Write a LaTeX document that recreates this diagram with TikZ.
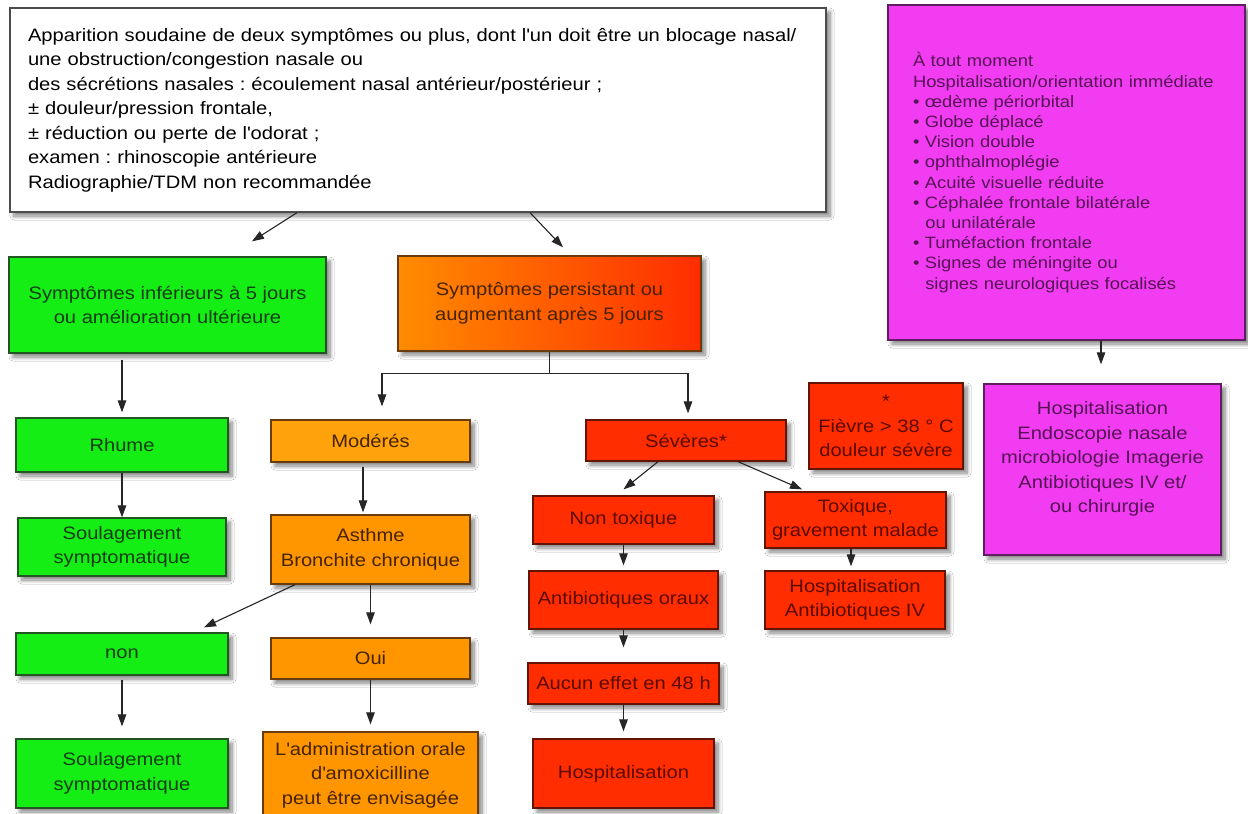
\documentclass[tikz,border=0pt]{standalone}
\usepackage{fontspec}
\setmainfont[FakeStretch=1.12]{Liberation Sans}
\usetikzlibrary{arrows.meta,shadows.blur,calc}
\frenchspacing

\definecolor{cgreen}{RGB}{20,238,20}
\definecolor{cgreenD}{RGB}{35,85,35}
\definecolor{cgreenT}{RGB}{20,60,20}
\definecolor{corange}{RGB}{255,150,0}
\definecolor{cmod}{RGB}{255,162,12}
\definecolor{corangeD}{RGB}{105,60,15}
\definecolor{corangeT}{RGB}{70,35,0}
\definecolor{cred}{RGB}{255,45,0}
\definecolor{credD}{RGB}{100,20,5}
\definecolor{credT}{RGB}{90,10,0}
\definecolor{cpink}{RGB}{242,60,242}
\definecolor{cpinkD}{RGB}{95,30,95}
\definecolor{cpinkT}{RGB}{85,20,85}
\definecolor{cgradL}{RGB}{255,140,0}
\definecolor{cgradR}{RGB}{255,45,0}

% straight apostrophe
\newcommand\ap{\textquotesingle}

\tikzset{
  wh/.style 2 args={minimum width=#1pt, minimum height=#2pt},
  box/.style={draw, line width=1.3pt, align=center, inner sep=0pt,
    font=\fontsize{18}{24.5}\selectfont,
    blur shadow={shadow xshift=4pt, shadow yshift=-4pt, shadow blur radius=4pt,
      shadow blur steps=8, shadow opacity=50}},
  topbox/.style={box, fill=white, draw=black!70, text=black, align=left},
  gbox/.style={box, fill=cgreen, draw=cgreenD, text=cgreenT},
  obox/.style={box, fill=corange, draw=corangeD, text=corangeT},
  rbox/.style={box, fill=cred, draw=credD, text=credT},
  pbox/.style={box, fill=cpink, draw=cpinkD, text=cpinkT},
  gradbox/.style={box, left color=cgradL, right color=cgradR, draw=corangeD, text=corangeT},
  link/.style={draw=black!85, line width=1.1pt},
  arr/.style={link, -{Triangle[length=12pt,width=8.5pt]}},
}

\begin{document}
\begin{tikzpicture}[x=1pt,y=-1pt]
\useasboundingbox (0,0) rectangle (1248,814);
\fill[white] (0,0) rectangle (1248,814);

% opening description
\node[topbox, wh={816}{204}, text width=780pt] (top) at (418,110)
  {Apparition soudaine de deux symptômes ou plus, dont l\ap un doit être un blocage nasal/\\
   une obstruction/congestion nasale ou\\
   des sécrétions nasales : écoulement nasal antérieur/postérieur ;\\
   ± douleur/pression frontale,\\
   ± réduction ou perte de l\ap odorat ;\\
   examen : rhinoscopie antérieure\\
   Radiographie/TDM non recommandée};

% warning signs
\node[pbox, wh={357}{335}, text width=307pt, align=left,
      font=\fontsize{16.4}{20.2}\selectfont] (pink) at (1066.5,172.5)
  {À tout moment\\
   Hospitalisation/orientation immédiate\\
   • œdème périorbital\\
   • Globe déplacé\\
   • Vision double\\
   • ophthalmoplégie\\
   • Acuité visuelle réduite\\
   • Céphalée frontale bilatérale\\
   \hspace*{0.75em}ou unilatérale\\
   • Tuméfaction frontale\\
   • Signes de méningite ou\\
   \hspace*{0.75em}signes neurologiques focalisés};

\node[pbox, wh={237}{171}] (hpink) at (1102.5,469.5)
  {Hospitalisation\\Endoscopie nasale\\microbiologie Imagerie\\Antibiotiques IV et/\\ou chirurgie\\ \mbox{}};

% short course branch
\node[gbox, wh={317}{96}] (g1) at (167.5,305)
  {Symptômes inférieurs à 5 jours\\ou amélioration ultérieure};
\node[gbox, wh={212}{54}] (rhume) at (122,445) {Rhume};
\node[gbox, wh={208}{58}] (soul1) at (122,547) {Soulagement\\symptomatique};

% persistent branch
\node[gradbox, wh={303}{95}] (og) at (549.5,303.5)
  {Symptômes persistant ou\\augmentant après 5 jours};

% moderate
\node[box, fill=cmod, draw=corangeD, text=corangeT, wh={199}{42}] (mod) at (370.5,441) {Modérés};
\node[obox, wh={199}{69}] (asthme) at (370.5,549.5) {Asthme\\Bronchite chronique};
\node[gbox, wh={212}{42}] (non) at (122,654) {non};
\node[obox, wh={199}{41}] (oui) at (370.5,658.5) {Oui};
\node[gbox, wh={212}{69}] (soul2) at (122,773.5) {Soulagement\\symptomatique};
\node[obox, wh={215}{86}] (admin) at (370.5,775)
  {L\ap administration orale\\d\ap amoxicilline\\peut être envisagée};

% severe
\node[rbox, wh={200}{41}] (sev) at (686,440.5) {Sévères*};
\node[rbox, wh={154}{86}] (fievre) at (886,426) {*\\Fièvre > 38 ° C\\douleur sévère};
\node[rbox, wh={181}{48}] (nontox) at (623.5,520) {Non toxique};
\node[rbox, wh={181}{56}] (tox) at (855.5,520) {Toxique,\\gravement malade};
\node[rbox, wh={189}{58}] (abo) at (623.5,600) {Antibiotiques oraux};
\node[rbox, wh={180}{58}] (hiv) at (855,600) {Hospitalisation\\Antibiotiques IV};
\node[rbox, wh={191}{41}] (aucun) at (623.5,683.5) {Aucun effet en 48 h};
\node[rbox, wh={181}{69}] (hosp) at (623.5,773.5) {Hospitalisation};

% connectors
\draw[arr] ([xshift=-121pt]top.south) -- ([xshift=84.5pt,yshift=15pt]g1.north);
\draw[arr] ([xshift=112pt]top.south) -- ([xshift=13.5pt,yshift=8pt]og.north);
\draw[arr] ([xshift=-45.5pt,yshift=-6pt]g1.south) -- ([yshift=5pt]rhume.north);
\draw[arr] (rhume.south) -- (soul1.north);

\draw[link] (og.south) -- ++(0,22) coordinate (sp);
\draw[arr] (sp) -| ([xshift=11.5pt,yshift=13pt]mod.north);
\draw[arr] (sp) -| ([xshift=2pt,yshift=6pt]sev.north);

\draw[arr] ([xshift=-7.5pt,yshift=-4pt]mod.south) -- ([xshift=-7.5pt,yshift=2pt]asthme.north);
\draw[arr] ([xshift=-75.5pt]asthme.south) -- ([xshift=82pt,yshift=5pt]non.north);
\draw[arr] (asthme.south) -- ([yshift=13pt]oui.north);
\draw[arr] ([yshift=-4pt]non.south) -- ([yshift=12pt]soul2.north);
\draw[arr] (oui.south) -- ([yshift=7pt]admin.north);

\draw[arr] ([xshift=-28pt]sev.south) -- ([yshift=6pt]nontox.north);
\draw[arr] ([xshift=52pt]sev.south) -- ([xshift=-53.5pt,yshift=2pt]tox.north);
\draw[arr] (nontox.south) -- ([yshift=5pt]abo.north);
\draw[arr] (abo.south) -- ([yshift=15pt]aucun.north);
\draw[arr] (aucun.south) -- ([yshift=7pt]hosp.north);
\draw[arr] ([xshift=-4.5pt]tox.south) -- ([xshift=-4pt,yshift=4pt]hiv.north);

\draw[arr] ([xshift=34.5pt]pink.south) -- ([xshift=-1.5pt,yshift=19pt]hpink.north);
\end{tikzpicture}
\end{document}
